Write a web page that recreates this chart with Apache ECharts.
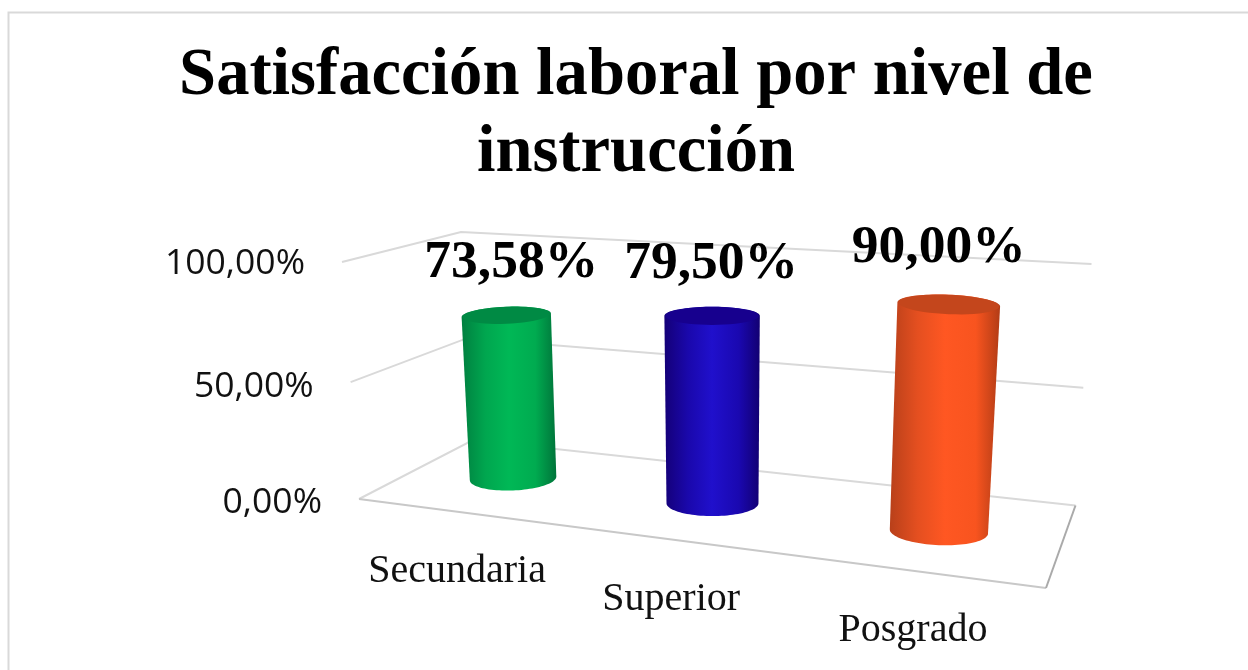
<!DOCTYPE html>
<html>
<head>
<meta charset="utf-8">
<style>
	html, body { margin: 0; padding: 0; background: #fff; }
	#chart { width: 1248px; height: 670px; }
</style>
<script src="https://cdn.jsdelivr.net/npm/echarts@6/dist/echarts.min.js"></script>
</head>
<body>
<div id="chart"></div>
<script>
var chartTitle = 'Satisfacción laboral por nivel de\ninstrucción';
var categories = ['Secundaria', 'Superior', 'Posgrado'];
var satisfaction = [73.58, 79.50, 90.00];
var yTicks = [0, 50, 100];
var yTickLabels = ['0,00%', '50,00%', '100,00%'];

var bodyColors = [
	['#008040', '#00a64f', '#00b856', '#00ab50', '#00743a'],
	['#140078', '#1a08ac', '#2010cc', '#1a08b0', '#120072'],
	['#b8401a', '#e44f20', '#ff5722', '#f8541f', '#b23c16']
];
var capColors = ['#008a44', '#17008e', '#c4461c'];

// the 3d look: each plane of the box is a quad on the page, (u, v) are the 0..1 grid positions
var barPlane = planeMap([422, 467], [1064, 547], [1082, 285], [409, 249]);
var backWall = planeMap([473, 440], [1075.5, 505.5], [1091.5, 264], [461, 232]);
var sideWall = planeMap([359, 499], [473, 440], [461, 232], [342, 262]);
var floorPlane = planeMap([359, 499], [1046, 588], [1075.5, 505.5], [473, 440]);

var barRadius = 42;
var valueLabelShift = [[5, -52], [-1, -52], [-10, -56]];
var tickLabelShift = [4, 5, 2];

function planeMap(p0, p1, p2, p3) {
	var dx1 = p1[0] - p2[0], dx2 = p3[0] - p2[0], sx = p0[0] - p1[0] + p2[0] - p3[0];
	var dy1 = p1[1] - p2[1], dy2 = p3[1] - p2[1], sy = p0[1] - p1[1] + p2[1] - p3[1];
	var den = dx1 * dy2 - dx2 * dy1;
	var g = (sx * dy2 - dx2 * sy) / den;
	var h = (dx1 * sy - sx * dy1) / den;
	var a = p1[0] - p0[0] + g * p1[0], b = p3[0] - p0[0] + h * p3[0];
	var d = p1[1] - p0[1] + g * p1[1], e = p3[1] - p0[1] + h * p3[1];
	return function(u, v) {
		var w = g * u + h * v + 1;
		return [(a * u + b * v + p0[0]) / w, (d * u + e * v + p0[1]) / w, w];
	};
}

// grid pixel -> 0..1 position inside the grid
function toPlane(params, px) {
	var c = params.coordSys;
	return [(px[0] - c.x) / c.width, (c.y + c.height - px[1]) / c.height];
}

function capPoints(p, rx, ry, tilt, from, to) {
	var pts = [];
	for (var i = 0; i <= 48; i++) {
		var t = from + (to - from) * i / 48;
		var ex = Math.cos(t) * rx, ey = Math.sin(t) * ry;
		pts.push([p[0] + ex, p[1] + ey + ex * tilt]);
	}
	return pts;
}

function lineEl(points, color, width) {
	return {
		type: 'polyline',
		shape: {points: points},
		style: {fill: 'none', stroke: color, lineWidth: width}
	};
}

function renderWall(params, api) {
	var v = toPlane(params, api.coord([0, api.value(1)]))[1];
	var left = sideWall(0, v), corner = backWall(0, v), right = backWall(1, v);
	var isFloor = api.value(1) === 0;
	var children = [lineEl([left, corner, right], '#d9d9d9', 2)];

	if (isFloor) {
		children.push(lineEl([floorPlane(0, 0), floorPlane(1, 0)], '#c8c8c8', 2));
		children.push(lineEl([floorPlane(1, 0), floorPlane(1, 1)], '#aaaaaa', 2));
	}
	children.push({
		type: 'text',
		style: {
			text: yTickLabels[params.dataIndex],
			x: left[0] - 37,
			y: left[1] + tickLabelShift[params.dataIndex],
			align: 'right',
			verticalAlign: 'middle',
			fill: '#111',
			fontFamily: 'Open Sans',
			fontSize: 35.5
		}
	});
	return {type: 'group', children: children};
}

function renderBar(params, api) {
	var i = params.dataIndex;
	var baseUV = toPlane(params, api.coord([i, 0]));
	var topUV = toPlane(params, api.coord([i, api.value(1)]));
	var base = barPlane(baseUV[0], 0);
	var top = barPlane(topUV[0], topUV[1]);
	var baseRx = barRadius / base[2], topRx = barRadius / top[2];
	var baseRy = baseRx * 0.28, topRy = topRx * 0.19;
	var tilt = (topUV[0] - 0.5) * 0.12;

	var bodyPts = capPoints(base, baseRx, baseRy, tilt, Math.PI, 0)
		.concat(capPoints(top, topRx, topRy, tilt, 0, -Math.PI));
	var stops = bodyColors[i].map(function(color, n) {
		return {offset: [0, 0.25, 0.5, 0.78, 1][n], color: color};
	});
	var edge = floorPlane(baseUV[0], 0);

	return {
		type: 'group',
		children: [
			{
				type: 'polygon',
				shape: {points: bodyPts},
				style: {fill: new echarts.graphic.LinearGradient(0, 0, 1, 0, stops)}
			},
			{
				type: 'polygon',
				shape: {points: capPoints(top, topRx - 1, topRy, tilt, 0, Math.PI * 2)},
				style: {fill: capColors[i]}
			},
			{
				type: 'text',
				style: {
					text: api.value(1).toFixed(2).replace('.', ',') + '%',
					x: top[0] + valueLabelShift[i][0],
					y: top[1] + valueLabelShift[i][1],
					align: 'center',
					verticalAlign: 'middle',
					fill: '#000',
					fontFamily: 'Liberation Serif',
					fontWeight: 'bold',
					fontSize: 53.5
				}
			},
			{
				type: 'text',
				style: {
					text: categories[i],
					x: edge[0],
					y: edge[1] + 60,
					align: 'center',
					verticalAlign: 'middle',
					fill: '#111',
					fontFamily: 'Liberation Serif',
					fontSize: 40
				}
			}
		]
	};
}

var myChart = echarts.init(document.getElementById('chart'));

myChart.setOption({
	animation: false,
	backgroundColor: '#fff',
	title: {
		text: chartTitle,
		left: 631,
		top: 33,
		textAlign: 'center',
		textStyle: {
			fontFamily: 'Liberation Serif',
			fontWeight: 'bold',
			fontSize: 66.6,
			lineHeight: 77,
			color: '#000'
		}
	},
	graphic: [{
		type: 'rect',
		silent: true,
		shape: {x: 8.5, y: 12.5, width: 1300, height: 700},
		style: {fill: 'none', stroke: '#d9d9d9', lineWidth: 2}
	}],
	grid: {left: 100, right: 100, top: 100, bottom: 100},
	xAxis: {type: 'category', data: categories, show: false},
	yAxis: {type: 'value', min: 0, max: 100, interval: 50, show: false},
	series: [
		{
			type: 'custom',
			silent: true,
			renderItem: renderWall,
			encode: {x: 0, y: 1},
			data: yTicks.map(function(t) { return [0, t]; }),
			z: 1
		},
		{
			type: 'custom',
			silent: true,
			renderItem: renderBar,
			encode: {x: 0, y: 1},
			data: satisfaction.map(function(val, i) { return [i, val]; }),
			z: 2
		}
	]
});

window.onresize = function() {
	myChart.resize();
};
</script>
</body>
</html>
